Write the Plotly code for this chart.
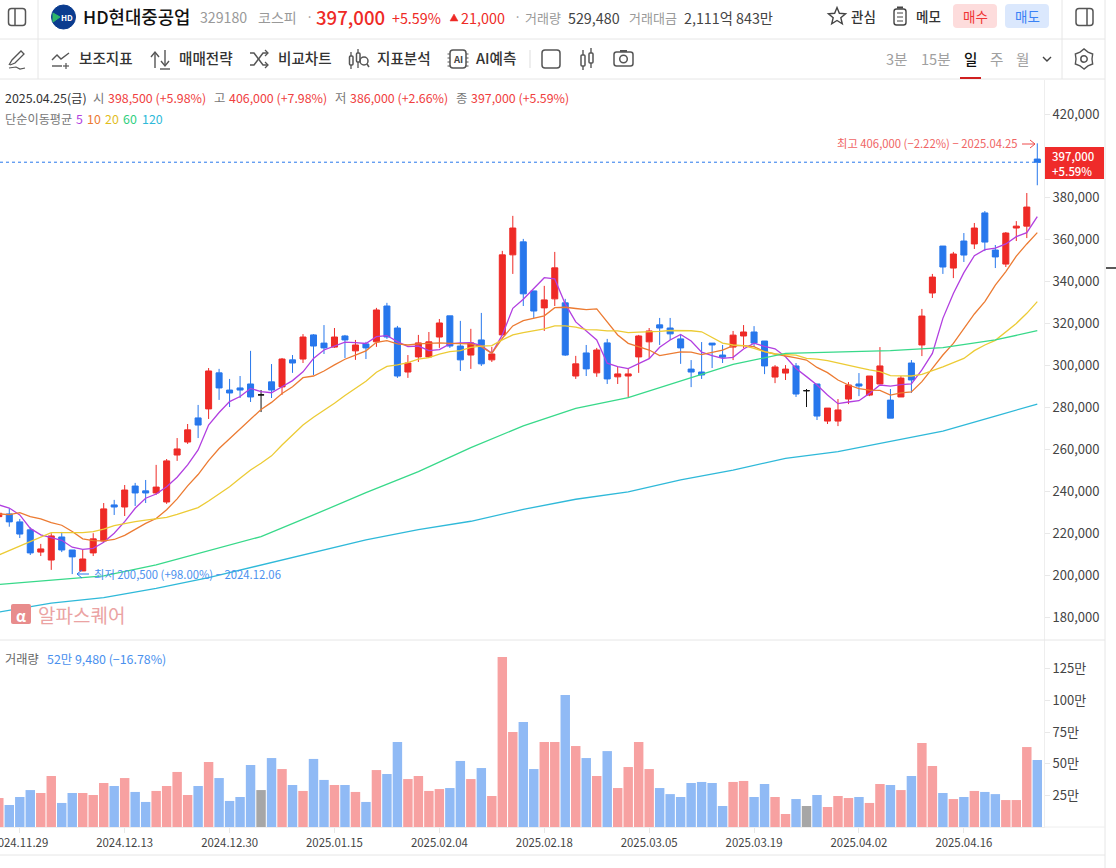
import math
import plotly.graph_objects as go

W, H = 1116, 868
FONT = "Noto Sans CJK KR"

RED = "#ee2a26"
BLUE = "#2777ec"
TICK_DATES = ["2024.11.29", "2024.12.13", "2024.12.30", "2025.01.15", "2025.02.04",
              "2025.02.18", "2025.03.05", "2025.03.19", "2025.04.02", "2025.04.16"]
TICK_IDX = [2, 12, 22, 32, 42, 52, 62, 72, 82, 92]
# 400,000 눈금은 현재가 박스에 가려져 있음
PRICE_TICKS = [180, 200, 220, 240, 260, 280, 300, 320, 340, 360, 380, 420]
VOL_TICKS = [25, 50, 75, 100, 125]

# 가격 (천원)
opens = [227.9, 229.2, 225.4, 221.6, 211, 207.2, 218.2, 212, 202, 210.6,
         216.3, 233.5, 232.5, 242.5, 240.2, 239.2, 234.9, 257.3, 263.5, 275,
         279.3, 296.5, 288.3, 289.3, 291.2, 286, 292.2, 289.8, 302.7, 303.1,
         314.6, 310.7, 308.8, 314.1, 307, 310.3, 311.3, 328.4, 317.9, 296.9,
         304.1, 304.1, 313.6, 323.7, 309.3, 305, 312.2, 302.7, 314.6, 352.8,
         359, 335.6, 327.5, 331.8, 329.9, 295, 306, 296.5, 310.8, 294.6,
         295, 304.1, 311.3, 319.4, 317.9, 312.7, 298.3, 296.9, 310.7, 305,
         308.8, 314.1, 316, 311.7, 294.5, 296.4, 299.8, 288, 291.2, 273.5,
         273.5, 284, 291.2, 285.9, 291.2, 283.5, 285, 301.2, 309.8, 334.6,
         357, 346.5, 359.4, 358, 372.8, 355.1, 348.4, 365.6, 366.5, 398.5]
closes = [229.5, 225.4, 219.6, 210.6, 212.5, 218.7, 212, 208.7, 207.7, 217.3,
          231.6, 232.5, 240.6, 239.2, 239.2, 242, 254.5, 260.2, 269.3, 271.6,
          297.4, 289.3, 286.9, 288.3, 285, 286, 288.3, 303.1, 301.2, 313.6,
          309.3, 308.4, 313.6, 312.2, 309.8, 308.4, 326.5, 313.6, 295, 301.2,
          310.8, 311.3, 320.3, 309.3, 302.7, 310.8, 300.8, 305.5, 352.8, 365.6,
          334.2, 326, 331.3, 346.6, 305, 300.8, 298.4, 307.4, 293.6, 296,
          296, 314.1, 316.5, 317.9, 315.1, 308.4, 296.9, 295.5, 309.8, 304,
          314.5, 316, 310.7, 299.8, 299.3, 298.3, 286.4, 288, 275.9, 279.7,
          278.8, 290.7, 290.2, 295, 299.8, 274.9, 294, 293.1, 323.6, 342.2,
          347, 353.2, 352.7, 365.6, 358.9, 351.8, 363.2, 366.5, 375.6, 397]
highs = [230, 231.9, 226.8, 222.8, 214.9, 220, 220.6, 212, 212, 220,
         234.4, 235.9, 243, 244, 245.4, 252.6, 255.4, 265.4, 272.1, 281.2,
         298.8, 298.4, 293.6, 295, 307, 288.3, 300.7, 303.6, 305, 315,
         315, 319.3, 317.9, 314.6, 312.2, 311.3, 327.5, 329.9, 318.9, 305,
         314.6, 316, 322.2, 323.7, 321.3, 317.5, 325.1, 308.9, 354.7, 371.4,
         360.4, 335.6, 338, 354.2, 331.8, 304.6, 309.8, 308.4, 312.7, 299.3,
         298.8, 314.6, 317.9, 322.7, 322.7, 314.6, 302.6, 311.2, 310.7, 309.8,
         316.5, 319.3, 318.8, 311.7, 300.2, 300.2, 301.2, 288.8, 291.2, 279.7,
         284, 292.1, 296.4, 295, 308.8, 288.8, 295, 302.6, 327, 343.7,
         357, 354.2, 363.2, 368, 373.7, 357.5, 363.7, 368.9, 382.3, 406]
lows = [227.5, 223.1, 217.7, 209.6, 209.1, 202.5, 211, 200.5, 202, 209.1,
        215.8, 228.7, 228.2, 233, 234.4, 238.3, 234, 254.5, 262.6, 265.4,
        274.5, 283.6, 280.2, 284.5, 282.6, 277.8, 284.5, 286, 296.5, 301.2,
        295.5, 305.5, 308.4, 303.6, 302.7, 303.1, 308.9, 312.7, 294.1, 294.1,
        301.7, 303.6, 308.4, 308.4, 297.4, 298.4, 299.8, 301.7, 314.6, 343.7,
        328.4, 322.7, 316.5, 328.4, 304.6, 293.6, 295, 294.6, 291.2, 291.2,
        284.5, 296.5, 303.6, 309.8, 312.2, 300.8, 289.7, 293.6, 298.8, 301.2,
        302.6, 308.3, 308.8, 295.9, 291.6, 293.1, 285, 280.2, 274, 272.1,
        271.1, 281.6, 285.4, 285.4, 291.2, 274.9, 285, 286.9, 304.5, 332.2,
        343.7, 341.7, 349.4, 355.6, 354.6, 346.5, 347, 359.4, 360.8, 386]

# 거래량 (만)
volumes = [22.9, 17.4, 23.7, 29.2, 26.9, 40.3, 19, 26.9, 26.9, 25.3,
           34.8, 32.4, 38.7, 27.7, 19.8, 28.5, 32.4, 43.5, 25.3, 32.4,
           51.4, 38.7, 20.6, 23.7, 49, 29.2, 54.5, 45.8, 33.2, 28.5,
           53.8, 37.2, 33.2, 33.2, 27.7, 19.8, 45, 41.9, 67.2, 37.9,
           40.3, 28.5, 30, 30.8, 52.2, 37.9, 46.6, 24.5, 134.4, 75.1,
           83, 45.8, 67.2, 67.2, 104.3, 64, 54.5, 40.3, 60, 30.8,
           47.4, 67.2, 45.8, 30.8, 26, 23.7, 34.8, 35.6, 34.8, 16.6,
           35.6, 36.4, 23.7, 34, 23.7, 10.3, 22.1, 16.6, 25.3, 15.8,
           24.5, 22.9, 23.7, 19, 34, 33.2, 29.2, 40.3, 66.4, 48.2,
           26.9, 22.1, 23.7, 28.5, 27.7, 26, 21.3, 21.3, 63.2, 52.95]

ma5 = [233.5, 232, 228.7, 222.3, 219.2, 218, 216.6, 213.3, 212.3, 212.8,
       215.7, 220, 225.5, 231.9, 236.7, 238.7, 242.2, 246.7, 252.6, 259.7,
       271.6, 277.6, 282.8, 285.2, 289.1, 287.5, 287, 289.9, 292.8, 297,
       303.4, 307.4, 309.3, 311.2, 310.9, 310.5, 313.8, 314.3, 311.4, 309,
       309.3, 307.1, 307.6, 310.3, 310.8, 310.9, 309.5, 305.8, 314.6, 327.3,
       331.6, 336.9, 341.9, 341.3, 329.4, 320.8, 316.5, 312.2, 301.1, 299.5,
       298.5, 301.1, 303.3, 308.7, 312.2, 314.8, 311.7, 306.4, 304.7, 303.4,
       303.9, 307.9, 310.7, 309.1, 308, 304.2, 298.6, 294.7, 290.7, 285.9,
       281.8, 282.6, 283.2, 286.7, 290.7, 290.2, 290.9, 291.2, 297.9, 305.8,
       322.5, 334.4, 344.3, 352.4, 355.3, 356, 358, 361.5, 363.4, 371]
ma10 = [229.2, 228.9, 229.8, 227.9, 226.8, 225, 223.8, 220.8, 217.3, 216.5,
        216.3, 217, 219, 222, 224.7, 227, 231.2, 236.4, 242.6, 248,
        254.6, 260.4, 265, 270, 274.6, 279, 282.4, 286.7, 289.9, 294.2,
        295, 297.4, 300.3, 303, 305, 307, 311.1, 311.9, 310.3, 309.8,
        310.3, 310.6, 310.8, 310.6, 310.5, 310.3, 309, 305.8, 313, 318.9,
        321.4, 322.7, 323.7, 327.6, 327.8, 327.2, 326.7, 327, 321, 314.6,
        310.6, 309, 307.4, 304.7, 305.5, 306.5, 306.4, 305.2, 306.3, 307.4,
        309.5, 309.5, 309, 306.6, 305.5, 304.7, 303.6, 302.6, 299.1, 296.6,
        293.1, 290.7, 289, 288.3, 288.1, 285.9, 287, 287.4, 292.3, 298.6,
        305, 310.6, 317.3, 324.6, 330.5, 338.4, 344.8, 352.2, 358, 363.4]
ma20 = [209.6, 211.7, 213.9, 216, 218.4, 220.3, 220.3, 220.3, 220.3, 220.8,
        221.9, 223.6, 224.7, 225.5, 226.2, 226.8, 227.6, 229, 230.6, 232.2,
        235.4, 238.7, 242.2, 246.2, 250.2, 253.4, 256.9, 262.1, 266.9, 271.6,
        275.3, 278.5, 282, 285.7, 288.9, 292.5, 296.8, 299.6, 300.3, 301.4,
        303, 303.8, 305.4, 306.6, 307.1, 308.7, 309.3, 309.5, 312.2, 314.6,
        315.7, 316.5, 317.5, 318.9, 318.9, 318.3, 317.1, 317, 316.5, 316.5,
        315.7, 315.9, 316, 316.3, 316.7, 316.7, 316.6, 316.1, 313.4, 310.7,
        309.8, 309.5, 308.2, 306.6, 305.5, 305.3, 305, 303.4, 303.1, 302.3,
        301.3, 300.2, 299, 297.9, 297.1, 295.2, 295, 295, 295.8, 297.5,
        299.4, 301.4, 303.4, 307.1, 309.8, 312, 316.1, 320.1, 324.9, 330.5]
# 60, 120일선은 5봉마다 읽은 값
ma_long_idx = [0, 5, 10, 15, 20, 25, 30, 35, 40, 45, 50, 55, 60, 65, 70, 75, 80, 85, 90, 95, 99]
ma60 = [195.5, 197.4, 199.6, 204.9, 211.7, 218.4, 228.7, 239.4, 249.4, 260.8, 271.2,
        279.6, 284.7, 292.6, 300.5, 305.8, 306.6, 307.1, 308.5, 312.2, 316.6]
ma120 = [182.4, 186.6, 189.3, 193.7, 198.8, 204.9, 211, 216.8, 221.7, 225.7, 231.4,
         236.2, 239.7, 245.4, 250.1, 255.7, 258.9, 263.7, 268.7, 275.9, 281.6]

idx = list(range(len(closes)))
doji = [i for i in idx if opens[i] == closes[i]]
normal = [i for i in idx if opens[i] != closes[i]]


def pick(values, ids):
    return [values[i] for i in ids]


# 픽셀 좌표 -> paper 좌표
def fx(x):
    return x / W


def fy(y):
    return 1 - y / H


shapes = []
annotations = []


def txt(x, y, s, color="#333333", size=13, anchor="left", weight=400):
    annotations.append(dict(
        x=fx(x), y=fy(y), xref="paper", yref="paper", text=s, showarrow=False,
        xanchor=anchor, yanchor="middle", align=anchor, borderpad=0, borderwidth=0,
        font=dict(family=FONT, size=size, color=color, weight=weight),
    ))


def line(x0, y0, x1, y1, color="#e6e6e6", width=1):
    shapes.append(dict(type="line", xref="paper", yref="paper", x0=fx(x0), y0=fy(y0),
                       x1=fx(x1), y1=fy(y1), line=dict(color=color, width=width)))


def rect(x0, y0, x1, y1, fill, layer="above"):
    shapes.append(dict(type="rect", xref="paper", yref="paper", x0=fx(x0), y0=fy(y0),
                       x1=fx(x1), y1=fy(y1), fillcolor=fill, line=dict(width=0), layer=layer))


def circle(cx, cy, r, color="#555555", width=1.5, fill=None):
    shapes.append(dict(type="circle", xref="paper", yref="paper", x0=fx(cx - r), y0=fy(cy - r),
                       x1=fx(cx + r), y1=fy(cy + r), fillcolor=fill,
                       line=dict(color=color, width=width)))


def poly(points, color="#555555", width=1.5, closed=False, fill=None):
    d = "M " + " L ".join(f"{fx(x):.5f},{fy(y):.5f}" for x, y in points)
    if closed:
        d += " Z"
    shapes.append(dict(type="path", xref="paper", yref="paper", path=d, fillcolor=fill,
                       line=dict(color=color, width=width)))


def rrect(x0, y0, x1, y1, r, color="#555555", width=1.5, fill=None):
    p = lambda x, y: f"{fx(x):.5f},{fy(y):.5f}"
    d = (f"M {p(x0 + r, y0)} L {p(x1 - r, y0)} Q {p(x1, y0)} {p(x1, y0 + r)} "
         f"L {p(x1, y1 - r)} Q {p(x1, y1)} {p(x1 - r, y1)} L {p(x0 + r, y1)} "
         f"Q {p(x0, y1)} {p(x0, y1 - r)} L {p(x0, y0 + r)} Q {p(x0, y0)} {p(x0 + r, y0)} Z")
    shapes.append(dict(type="path", xref="paper", yref="paper", path=d, fillcolor=fill,
                       line=dict(color=color if width else "rgba(0,0,0,0)", width=width)))


fig = go.Figure()

# 이동평균선이 캔들 아래로 가도록 먼저 그림
ma_styles = [(idx, ma5, "#b23fe0"), (idx, ma10, "#ec7b32"), (idx, ma20, "#eccb35"),
             (ma_long_idx, ma60, "#38d98a"), (ma_long_idx, ma120, "#2fb9d9")]
for xs, ys, c in ma_styles:
    fig.add_trace(go.Scatter(x=xs, y=ys, mode="lines", line=dict(color=c, width=1.3),
                             hoverinfo="skip", showlegend=False))

fig.add_trace(go.Candlestick(
    x=normal, open=pick(opens, normal), high=pick(highs, normal),
    low=pick(lows, normal), close=pick(closes, normal),
    increasing=dict(line=dict(color=RED, width=1), fillcolor=RED),
    decreasing=dict(line=dict(color=BLUE, width=1), fillcolor=BLUE),
    showlegend=False,
))
fig.add_trace(go.Candlestick(
    x=doji, open=pick(opens, doji), high=pick(highs, doji),
    low=pick(lows, doji), close=pick(closes, doji),
    increasing=dict(line=dict(color="#111111", width=1), fillcolor="#111111"),
    decreasing=dict(line=dict(color="#111111", width=1), fillcolor="#111111"),
    showlegend=False,
))

vol_colors = []
for o, c in zip(opens, closes):
    if c > o:
        vol_colors.append("#f7a1a1")
    elif c < o:
        vol_colors.append("#90baf5")
    else:
        vol_colors.append("#a6a6a6")
fig.add_trace(go.Bar(x=idx, y=volumes, marker=dict(color=vol_colors, line=dict(width=0)),
                     xaxis="x2", yaxis="y2", showlegend=False, hoverinfo="y"))

# 현재가 점선
shapes.append(dict(type="line", xref="x domain", yref="y", x0=0, x1=1, y0=closes[-1], y1=closes[-1],
                   line=dict(color=BLUE, width=1, dash="dot")))

# 틀
line(0, 39, 1105, 39)
line(0, 79, 1105, 79)
line(38, 0, 38, 79)
line(1062, 0, 1062, 79)
line(1105, 0, 1105, 868)
line(0, 640, 1105, 640)
line(0, 855, 1105, 855)
line(1044, 827, 1105, 827, "#eeeeee")
line(1106, 268, 1116, 268, "#222222", 1.5)

# 상단 1줄
rrect(8.5, 8.5, 25.5, 25.5, 3)
line(15, 9, 15, 25, "#555555", 1.5)
circle(63.5, 17, 12, "#0b3c8f", 1, "#0b3c8f")
poly([(53, 13), (60, 17), (53, 22)], "#2fb56a", 1, True, "#2fb56a")
txt(61, 17.5, "HD", "#ffffff", 8, weight=700)
txt(83, 16, "HD현대중공업", "#111111", 17.8, weight=500)
txt(200, 17, "329180", "#999999", 14.2)
txt(258, 17, "코스피", "#999999", 14)
txt(306, 16, "·", "#999999", 13)
txt(316, 16, "397,000", RED, 18.6, weight=500)
txt(392, 17, "+5.59%", RED, 14.3)
poly([(450, 21), (458, 21), (454, 14)], RED, 0.5, True, RED)
txt(461, 17, "21,000", RED, 14.4)
txt(514, 16, "·", "#999999", 13)
txt(525, 17, "거래량", "#999999", 13)
txt(568, 17, "529,480", "#444444", 14.3)
txt(629, 17, "거래대금", "#999999", 13)
txt(684, 17, "2,111억 843만", "#444444", 14.3)

star = []
for k in range(10):
    r = 9 if k % 2 == 0 else 4
    a = -math.pi / 2 + k * math.pi / 5
    star.append((837 + r * math.cos(a), 16.5 + r * math.sin(a)))
poly(star, "#444444", 1.4, True)
txt(851, 16, "관심", "#333333", 13.5, weight=500)
rrect(894, 9, 906, 25, 2.5, "#444444", 1.4)
line(897, 7.5, 903, 7.5, "#444444", 2)
for yy in (13, 17, 21):
    line(897, yy, 903, yy, "#444444", 1)
txt(916, 16, "메모", "#333333", 13.5, weight=500)
rrect(953, 4, 997, 28, 4, "#fddcdc", 0, "#fddcdc")
txt(975, 16, "매수", "#f03434", 13.5, "center")
rrect(1005, 4, 1049, 28, 4, "#dbe8fd", 0, "#dbe8fd")
txt(1027, 16, "매도", "#3b82f6", 13.5, "center")
rrect(1076, 8.5, 1093, 25.5, 3)
line(1087, 9, 1087, 25, "#555555", 1.5)

# 상단 2줄: 도구 모음
poly([(9, 65), (12, 60), (21, 51), (24, 54), (15, 63), (10, 65)], "#555555", 1.3)
poly([(9, 68), (16, 67), (20, 69), (25, 68)], "#555555", 1.2)
poly([(52, 60), (57, 55), (61, 59), (69, 53)], "#555555", 1.4)
line(52, 66, 62, 66, "#555555", 1.4)
line(66, 63, 66, 69, "#555555", 1.2)
line(63, 66, 69, 66, "#555555", 1.2)
txt(79, 58, "보조지표", "#333333", 14.6, weight=500)
line(155, 53, 155, 68, "#555555", 1.4)
poly([(151, 57), (155, 52), (159, 57)], "#555555", 1.4)
line(165, 50, 165, 65, "#555555", 1.4)
poly([(161, 61), (165, 66), (169, 61)], "#555555", 1.4)
line(160, 69, 170, 69, "#555555", 1.4)
txt(179, 58, "매매전략", "#333333", 14.6, weight=500)
poly([(250, 53), (254, 53), (263, 65), (268, 65)], "#555555", 1.5)
poly([(250, 65), (254, 65), (263, 53), (268, 53)], "#555555", 1.5)
poly([(265, 50), (268, 53), (265, 56)], "#555555", 1.3)
poly([(265, 62), (268, 65), (265, 68)], "#555555", 1.3)
txt(278, 58, "비교차트", "#333333", 14.6, weight=500)
rrect(349.5, 56, 353, 65, 1)
line(351, 52, 351, 56, "#555555", 1.3)
line(351, 65, 351, 69, "#555555", 1.3)
rrect(356.5, 53, 360, 62, 1)
line(358, 49, 358, 53, "#555555", 1.3)
line(358, 62, 358, 68, "#555555", 1.3)
circle(364, 61, 4)
line(367, 64, 369, 67, "#555555", 1.5)
txt(377, 58, "지표분석", "#333333", 14.6, weight=500)
rrect(450, 50, 466, 68, 3)
for yy in (54, 58, 62, 66):
    line(447.5, yy, 450, yy, "#555555", 1)
    line(466, yy, 468.5, yy, "#555555", 1)
txt(458, 59, "AI", "#444444", 9.5, "center", 700)
txt(476, 58, "AI예측", "#333333", 14.6, weight=500)
line(530, 50, 530, 68, "#dddddd")
rrect(542, 50, 560, 68, 3)
rrect(581, 55, 585, 66, 1)
line(583, 50, 583, 55, "#555555", 1.4)
line(583, 66, 583, 70, "#555555", 1.4)
rrect(589, 53, 593, 63, 1)
line(591, 48, 591, 53, "#555555", 1.4)
line(591, 63, 591, 68, "#555555", 1.4)
rrect(614, 52, 633, 66, 2.5)
line(620, 51, 627, 51, "#555555", 2)
circle(623.5, 59, 3.8)
txt(886, 59, "3분", "#a0a0a0", 14.6)
txt(921, 59, "15분", "#a0a0a0", 14.6)
txt(964, 59, "일", "#111111", 14.6, weight=500)
rect(960, 77, 981, 79, "#d02020")
txt(990, 59, "주", "#a0a0a0", 14.6)
txt(1016, 59, "월", "#a0a0a0", 14.6)
poly([(1043, 57), (1047, 61), (1051, 57)], "#444444", 1.4)
gear = []
for k in range(12):
    r = 10 if k % 2 == 0 else 8
    a = k * math.pi / 6
    gear.append((1084 + r * math.cos(a + math.pi / 2), 59 + r * math.sin(a + math.pi / 2)))
poly(gear, "#555555", 1.4, True)
circle(1084, 59, 3.2)

# 시세 정보
txt(5, 98, "2025.04.25(금)", "#333333", 12.4)
txt(93, 98, "시", "#777777", 12.4)
txt(108, 98, "398,500 (+5.98%)", "#f04040", 12.4)
txt(214, 98, "고", "#777777", 12.4)
txt(229, 98, "406,000 (+7.98%)", "#f04040", 12.4)
txt(335, 98, "저", "#777777", 12.4)
txt(350, 98, "386,000 (+2.66%)", "#f04040", 12.4)
txt(456, 98, "종", "#777777", 12.4)
txt(471, 98, "397,000 (+5.59%)", "#f04040", 12.4)
txt(5, 119.5, "단순이동평균", "#777777", 12.2)
txt(76, 119.5, "5", "#b23fe0", 12.4)
txt(87, 119.5, "10", "#ec7b32", 12.4)
txt(105, 119.5, "20", "#e2bd1c", 12.4)
txt(123, 119.5, "60", "#2fcf80", 12.4)
txt(142, 119.5, "120", "#2fb9d9", 12.4)
txt(5, 658.5, "거래량", "#666666", 12.2)
txt(47, 658.5, "52만 9,480 (−16.78%)", "#4a90ee", 12.4)

# 최고/최저 표시
txt(837, 143, "최고 406,000 (−2.22%) − 2025.04.25", "#f06464", 11.3)
line(1022, 144, 1035, 144, "#ee4a4a", 1)
poly([(1030, 140), (1035, 144), (1030, 148)], "#ee4a4a", 1)
txt(94, 574, "최저 200,500 (+98.00%) − 2024.12.06", "#4a90ee", 11.3)
line(77, 574, 89, 574, BLUE, 1)
poly([(82, 570), (77, 574), (82, 578)], BLUE, 1)

# 현재가 박스
rect(1045, 147, 1104, 179, "#ef2b2a")
txt(1052, 163, "397,000<br>+5.59%", "#ffffff", 11.4, weight=500)

# 워터마크
rrect(11, 604, 31, 624, 2, "#e88c8c", 0, "#e88c8c")
txt(21, 615, "α", "#ffffff", 15, "center", 700)
txt(38, 614, "알파스퀘어", "#eba3a3", 19)

# 가격축 눈금 픽셀 맞춤: 420,000 = y114, 180,000 = y617, 창 80~640
fig.update_layout(
    width=W, height=H, margin=dict(l=0, r=0, t=0, b=0, autoexpand=False),
    paper_bgcolor="#ffffff", plot_bgcolor="#ffffff",
    font=dict(family=FONT, size=12, color="#444444"),
    boxgap=0.18, bargap=0.1,
    showlegend=False, shapes=shapes, annotations=annotations,
    xaxis=dict(domain=[0, 1044 / W], range=[0.114, 99.64], showgrid=False, zeroline=False,
               showticklabels=False, ticks="", rangeslider=dict(visible=False), anchor="y"),
    yaxis=dict(domain=[fy(640), fy(80)], range=[169.05, 436.22], side="right", anchor="x",
               tickvals=PRICE_TICKS, ticktext=[f"{v},000" for v in PRICE_TICKS],
               showgrid=False, zeroline=False, showline=True, linecolor="#eeeeee", linewidth=1,
               ticks="outside", ticklen=5, tickcolor="#e8e8e8", tickfont=dict(size=13, color="#444444")),
    xaxis2=dict(domain=[0, 1044 / W], range=[0.114, 99.64], anchor="y2", matches="x",
                tickvals=TICK_IDX, ticktext=TICK_DATES, showgrid=False, zeroline=False,
                showline=True, linecolor="#eeeeee", linewidth=1, ticklabeloverflow="allow",
                automargin=False, ticks="outside", ticklen=5, tickcolor="#e8e8e8", tickangle=0,
                tickfont=dict(size=11.4, color="#444444")),
    yaxis2=dict(domain=[fy(827), fy(640)], range=[0, 147.8], side="right", anchor="x2",
                tickvals=VOL_TICKS, ticktext=[f"{v}만" for v in VOL_TICKS],
                showgrid=False, zeroline=False, showline=True, linecolor="#eeeeee", linewidth=1,
                ticks="outside", ticklen=5, tickcolor="#e8e8e8", tickfont=dict(size=13, color="#444444")),
)

fig.write_html("out.html", post_script="document.body.style.margin='0';",
               config={"displayModeBar": False})
